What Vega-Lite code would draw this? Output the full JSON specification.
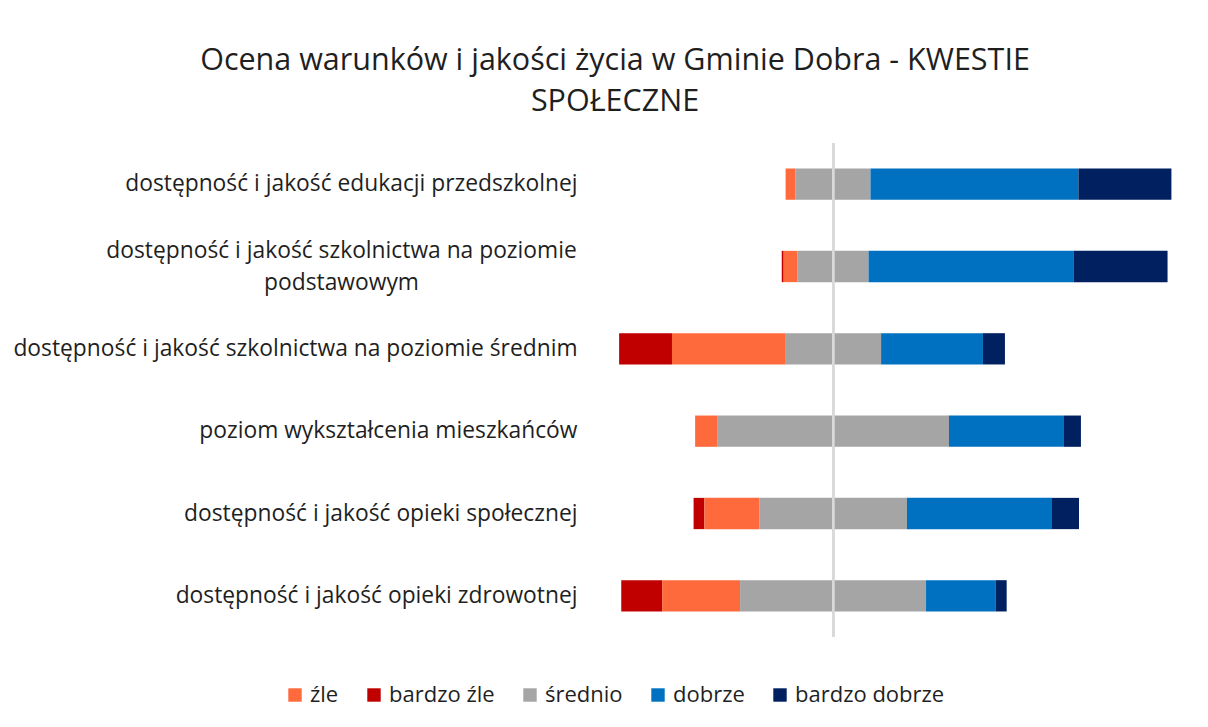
{
  "$schema": "https://vega.github.io/schema/vega-lite/v6.json",
  "width": 598,
  "height": 494,
  "autosize": "none",
  "padding": {"left": 590, "top": 143, "right": 20, "bottom": 90},
  "background": "white",
  "config": {
    "font": "Open Sans",
    "view": {"stroke": null}
  },
  "title": {
    "text": ["Ocena warunków i jakości życia w Gminie Dobra - KWESTIE", "SPOŁECZNE"],
    "fontSize": 30.5,
    "fontWeight": "normal",
    "color": "#1f1f1f",
    "lineHeight": 41,
    "anchor": "middle",
    "dx": -274,
    "offset": 25
  },
  "data": {
    "values": [
      {"pytanie": "dostępność i jakość edukacji przedszkolnej", "ocena": "bardzo źle", "wartosc": 0, "poziom": 3},
      {"pytanie": "dostępność i jakość edukacji przedszkolnej", "ocena": "źle", "wartosc": -2.6, "poziom": 2},
      {"pytanie": "dostępność i jakość edukacji przedszkolnej", "ocena": "średnio", "wartosc": -9.7, "poziom": 1},
      {"pytanie": "dostępność i jakość edukacji przedszkolnej", "ocena": "średnio", "wartosc": 9.7, "poziom": 1},
      {"pytanie": "dostępność i jakość edukacji przedszkolnej", "ocena": "dobrze", "wartosc": 53.9, "poziom": 2},
      {"pytanie": "dostępność i jakość edukacji przedszkolnej", "ocena": "bardzo dobrze", "wartosc": 24.1, "poziom": 3},

      {"pytanie": "dostępność i jakość szkolnictwa na poziomie podstawowym", "ocena": "bardzo źle", "wartosc": -0.5, "poziom": 3},
      {"pytanie": "dostępność i jakość szkolnictwa na poziomie podstawowym", "ocena": "źle", "wartosc": -3.6, "poziom": 2},
      {"pytanie": "dostępność i jakość szkolnictwa na poziomie podstawowym", "ocena": "średnio", "wartosc": -9.2, "poziom": 1},
      {"pytanie": "dostępność i jakość szkolnictwa na poziomie podstawowym", "ocena": "średnio", "wartosc": 9.2, "poziom": 1},
      {"pytanie": "dostępność i jakość szkolnictwa na poziomie podstawowym", "ocena": "dobrze", "wartosc": 53.1, "poziom": 2},
      {"pytanie": "dostępność i jakość szkolnictwa na poziomie podstawowym", "ocena": "bardzo dobrze", "wartosc": 24.4, "poziom": 3},

      {"pytanie": "dostępność i jakość szkolnictwa na poziomie średnim", "ocena": "bardzo źle", "wartosc": -13.7, "poziom": 3},
      {"pytanie": "dostępność i jakość szkolnictwa na poziomie średnim", "ocena": "źle", "wartosc": -29.3, "poziom": 2},
      {"pytanie": "dostępność i jakość szkolnictwa na poziomie średnim", "ocena": "średnio", "wartosc": -12.45, "poziom": 1},
      {"pytanie": "dostępność i jakość szkolnictwa na poziomie średnim", "ocena": "średnio", "wartosc": 12.45, "poziom": 1},
      {"pytanie": "dostępność i jakość szkolnictwa na poziomie średnim", "ocena": "dobrze", "wartosc": 26.4, "poziom": 2},
      {"pytanie": "dostępność i jakość szkolnictwa na poziomie średnim", "ocena": "bardzo dobrze", "wartosc": 5.7, "poziom": 3},

      {"pytanie": "poziom wykształcenia mieszkańców", "ocena": "bardzo źle", "wartosc": 0, "poziom": 3},
      {"pytanie": "poziom wykształcenia mieszkańców", "ocena": "źle", "wartosc": -5.7, "poziom": 2},
      {"pytanie": "poziom wykształcenia mieszkańców", "ocena": "średnio", "wartosc": -30.05, "poziom": 1},
      {"pytanie": "poziom wykształcenia mieszkańców", "ocena": "średnio", "wartosc": 30.05, "poziom": 1},
      {"pytanie": "poziom wykształcenia mieszkańców", "ocena": "dobrze", "wartosc": 29.8, "poziom": 2},
      {"pytanie": "poziom wykształcenia mieszkańców", "ocena": "bardzo dobrze", "wartosc": 4.4, "poziom": 3},

      {"pytanie": "dostępność i jakość opieki społecznej", "ocena": "bardzo źle", "wartosc": -2.8, "poziom": 3},
      {"pytanie": "dostępność i jakość opieki społecznej", "ocena": "źle", "wartosc": -14.2, "poziom": 2},
      {"pytanie": "dostępność i jakość opieki społecznej", "ocena": "średnio", "wartosc": -19.15, "poziom": 1},
      {"pytanie": "dostępność i jakość opieki społecznej", "ocena": "średnio", "wartosc": 19.15, "poziom": 1},
      {"pytanie": "dostępność i jakość opieki społecznej", "ocena": "dobrze", "wartosc": 37.6, "poziom": 2},
      {"pytanie": "dostępność i jakość opieki społecznej", "ocena": "bardzo dobrze", "wartosc": 7.0, "poziom": 3},

      {"pytanie": "dostępność i jakość opieki zdrowotnej", "ocena": "bardzo źle", "wartosc": -10.6, "poziom": 3},
      {"pytanie": "dostępność i jakość opieki zdrowotnej", "ocena": "źle", "wartosc": -20.2, "poziom": 2},
      {"pytanie": "dostępność i jakość opieki zdrowotnej", "ocena": "średnio", "wartosc": -24.1, "poziom": 1},
      {"pytanie": "dostępność i jakość opieki zdrowotnej", "ocena": "średnio", "wartosc": 24.1, "poziom": 1},
      {"pytanie": "dostępność i jakość opieki zdrowotnej", "ocena": "dobrze", "wartosc": 18.1, "poziom": 2},
      {"pytanie": "dostępność i jakość opieki zdrowotnej", "ocena": "bardzo dobrze", "wartosc": 2.8, "poziom": 3}
    ]
  },
  "layer": [
    {
      "mark": {"type": "bar"},
      "encoding": {
        "y": {
          "field": "pytanie",
          "type": "nominal",
          "sort": null,
          "scale": {"paddingInner": 0.62, "paddingOuter": 0.31},
          "axis": {
            "title": null,
            "domain": false,
            "ticks": false,
            "labelPadding": {"condition": {"test": "datum.value == 'dostępność i jakość szkolnictwa na poziomie podstawowym'", "value": 249}, "value": 13},
            "labelAlign": {"condition": {"test": "datum.value == 'dostępność i jakość szkolnictwa na poziomie podstawowym'", "value": "center"}, "value": "right"},
            "labelOffset": {"condition": {"test": "datum.value == 'dostępność i jakość szkolnictwa na poziomie podstawowym'", "value": -16}, "value": 0},
            "labelFontSize": 22.8,
            "labelColor": "#1f1f1f",
            "labelLineHeight": 32,
            "labelLimit": 700,
            "labelExpr": "datum.value == 'dostępność i jakość szkolnictwa na poziomie podstawowym' ? ['dostępność i jakość szkolnictwa na poziomie', 'podstawowym'] : datum.value"
          }
        },
        "x": {
          "field": "wartosc",
          "type": "quantitative",
          "stack": "zero",
          "scale": {"domain": [-63, 92], "nice": false, "zero": false},
          "axis": null
        },
        "order": {"field": "poziom", "type": "quantitative"},
        "color": {
          "field": "ocena",
          "type": "nominal",
          "scale": {
            "domain": ["źle", "bardzo źle", "średnio", "dobrze", "bardzo dobrze"],
            "range": ["#FF6A3D", "#C00000", "#A5A5A5", "#0070C0", "#002060"]
          },
          "legend": {
            "title": null,
            "orient": "none",
            "direction": "horizontal",
            "legendX": -306,
            "legendY": 541,
            "symbolType": "square",
            "symbolSize": 180,
            "symbolStrokeWidth": 0,
            "labelFontSize": 22,
            "labelColor": "#1f1f1f",
            "labelOffset": 4,
            "columnPadding": 24
          }
        }
      }
    },
    {
      "mark": {"type": "rule", "color": "#D9D9D9", "strokeWidth": 2},
      "encoding": {
        "x": {"datum": 0}
      }
    }
  ]
}
